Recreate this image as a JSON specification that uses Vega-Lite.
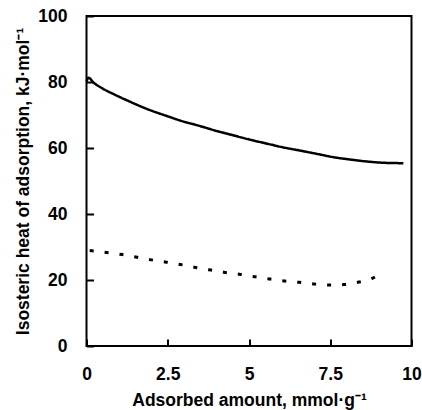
{
  "$schema": "https://vega.github.io/schema/vega-lite/v6.json",
  "width": 325,
  "height": 330,
  "autosize": {"type": "none"},
  "padding": {"left": 86.5, "top": 16, "right": 10.5, "bottom": 64},
  "background": "white",
  "config": {
    "view": {"stroke": "black", "strokeWidth": 2},
    "axis": {
      "grid": false,
      "domain": false,
      "zindex": 1,
      "offset": -7,
      "tickSize": 7,
      "tickWidth": 2,
      "tickColor": "black",
      "labelFlush": false,
      "labelFont": "Liberation Sans",
      "labelFontSize": 17.5,
      "labelFontWeight": "bold",
      "labelColor": "black",
      "titleFont": "Liberation Sans",
      "titleFontSize": 17.5,
      "titleFontWeight": "bold",
      "titleColor": "black"
    }
  },
  "data": {
    "values": [
      {"x": 0, "y": 80.2, "s": "A"},
      {"x": 0.06, "y": 81.3, "s": "A"},
      {"x": 0.22, "y": 79.8, "s": "A"},
      {"x": 0.5, "y": 78.0, "s": "A"},
      {"x": 0.84, "y": 76.3, "s": "A"},
      {"x": 1.3, "y": 74.2, "s": "A"},
      {"x": 1.87, "y": 71.8, "s": "A"},
      {"x": 2.5, "y": 69.6, "s": "A"},
      {"x": 2.89, "y": 68.3, "s": "A"},
      {"x": 3.51, "y": 66.6, "s": "A"},
      {"x": 3.92, "y": 65.4, "s": "A"},
      {"x": 4.53, "y": 63.8, "s": "A"},
      {"x": 5.0, "y": 62.6, "s": "A"},
      {"x": 5.56, "y": 61.3, "s": "A"},
      {"x": 6.0, "y": 60.3, "s": "A"},
      {"x": 6.58, "y": 59.2, "s": "A"},
      {"x": 7.0, "y": 58.4, "s": "A"},
      {"x": 7.61, "y": 57.2, "s": "A"},
      {"x": 8.2, "y": 56.4, "s": "A"},
      {"x": 8.64, "y": 55.9, "s": "A"},
      {"x": 9.2, "y": 55.5, "s": "A"},
      {"x": 9.75, "y": 55.4, "s": "A"},
      {"x": 0, "y": 29.0, "s": "B"},
      {"x": 0.5, "y": 28.5, "s": "B"},
      {"x": 1.1, "y": 27.7, "s": "B"},
      {"x": 1.56, "y": 26.9, "s": "B"},
      {"x": 2.0, "y": 26.1, "s": "B"},
      {"x": 2.46, "y": 25.4, "s": "B"},
      {"x": 2.89, "y": 24.7, "s": "B"},
      {"x": 3.35, "y": 23.8, "s": "B"},
      {"x": 3.82, "y": 23.0, "s": "B"},
      {"x": 4.26, "y": 22.3, "s": "B"},
      {"x": 4.74, "y": 21.7, "s": "B"},
      {"x": 5.17, "y": 21.0, "s": "B"},
      {"x": 5.63, "y": 20.3, "s": "B"},
      {"x": 6.09, "y": 19.7, "s": "B"},
      {"x": 6.54, "y": 19.3, "s": "B"},
      {"x": 6.99, "y": 18.8, "s": "B"},
      {"x": 7.46, "y": 18.5, "s": "B"},
      {"x": 7.9, "y": 18.6, "s": "B"},
      {"x": 8.35, "y": 19.3, "s": "B"},
      {"x": 8.79, "y": 20.5, "s": "B"},
      {"x": 9.1, "y": 22.3, "s": "B"}
    ]
  },
  "mark": {"type": "line", "color": "black", "interpolate": "monotone", "strokeDashOffset": 11.8},
  "encoding": {
    "x": {
      "field": "x",
      "type": "quantitative",
      "scale": {"domain": [0, 10], "nice": false},
      "axis": {"values": [0, 2.5, 5, 7.5, 10], "format": ".1~f", "labelPadding": 19, "titlePadding": 9, "title": "Adsorbed amount, mmol·g⁻¹"}
    },
    "y": {
      "field": "y",
      "type": "quantitative",
      "scale": {"domain": [0, 100], "nice": false},
      "axis": {"values": [0, 20, 40, 60, 80, 100], "format": ".0f", "labelPadding": 19.5, "titlePadding": 5, "title": "Isosteric heat of adsorption, kJ·mol⁻¹"}
    },
    "strokeDash": {
      "field": "s",
      "type": "nominal",
      "scale": {"domain": ["A", "B"], "range": [[1, 0], [4, 11]]},
      "legend": null
    },
    "strokeWidth": {
      "field": "s",
      "type": "nominal",
      "scale": {"domain": ["A", "B"], "range": [2.5, 3]},
      "legend": null
    }
  }
}
